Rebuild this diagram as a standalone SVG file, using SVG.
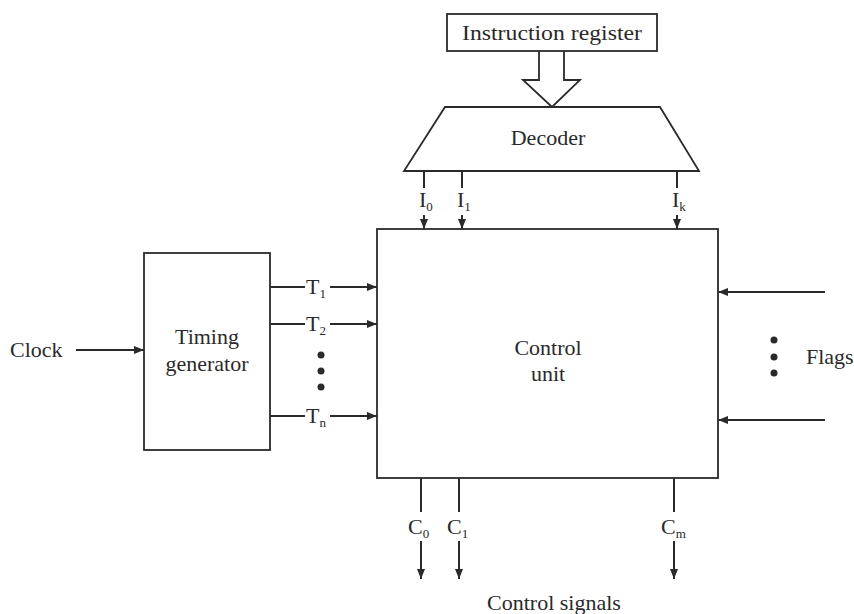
<svg xmlns="http://www.w3.org/2000/svg" width="854" height="614" viewBox="0 0 854 614">
<style>
.b{fill:none;stroke:#2a2a2a;stroke-width:1.8}
.l{fill:none;stroke:#2a2a2a;stroke-width:2}
text{font-family:"Liberation Serif",serif;font-size:22px;fill:#2a2a2a}
.s{font-size:13px}
.dot{fill:#2a2a2a}
</style>
<defs>
<marker id="ah" viewBox="0 0 10 10" refX="10" refY="5" markerWidth="10" markerHeight="10" markerUnits="userSpaceOnUse" orient="auto">
<path d="M0,1 L10,5 L0,9 Z" fill="#2a2a2a"/>
</marker>
</defs>
<rect width="854" height="614" fill="#ffffff"/>
<g id="ir">
<rect class="b" x="447" y="14" width="210" height="37"/>
<text x="552" y="40" text-anchor="middle" textLength="180" lengthAdjust="spacingAndGlyphs">Instruction register</text>
</g>
<g id="decoder">
<path class="b" d="M445,107 L660,107 L699,171 L404,171 Z"/>
<text x="548" y="145" text-anchor="middle">Decoder</text>
</g>
<g id="timing">
<rect class="b" x="144" y="253" width="126" height="197"/>
<text x="207" y="344" text-anchor="middle">Timing</text>
<text x="207" y="371" text-anchor="middle">generator</text>
</g>
<g id="control">
<rect class="b" x="377" y="229" width="341" height="249"/>
<text x="548" y="355" text-anchor="middle">Control</text>
<text x="548" y="381" text-anchor="middle">unit</text>
</g>
<g id="clock"><text x="10" y="357">Clock</text></g>
<g id="flags"><text x="806" y="364">Flags</text></g>
<g id="signals"><text x="554" y="610" text-anchor="middle">Control signals</text></g>
<g id="connectors">
<path class="b" d="M539,51 L539,80 L523,80 L552,107 L580,80 L564,80 L564,51" fill="#fff"/>
<line class="l" x1="424" y1="171" x2="424" y2="229" marker-end="url(#ah)"/>
<line class="l" x1="462" y1="171" x2="462" y2="229" marker-end="url(#ah)"/>
<line class="l" x1="677" y1="171" x2="677" y2="229" marker-end="url(#ah)"/>
<rect x="418" y="188" width="24" height="27" fill="#fff"/>
<rect x="456" y="188" width="22" height="27" fill="#fff"/>
<rect x="671" y="188" width="22" height="27" fill="#fff"/>
<text x="419" y="207">I<tspan class="s" dy="4">0</tspan></text>
<text x="457" y="207">I<tspan class="s" dy="4">1</tspan></text>
<text x="672" y="207">I<tspan class="s" dy="4">k</tspan></text>
<line class="l" x1="76" y1="350" x2="144" y2="350" marker-end="url(#ah)"/>
<line class="l" x1="270" y1="287" x2="305" y2="287"/>
<line class="l" x1="330" y1="287" x2="377" y2="287" marker-end="url(#ah)"/>
<line class="l" x1="270" y1="324" x2="305" y2="324"/>
<line class="l" x1="330" y1="324" x2="377" y2="324" marker-end="url(#ah)"/>
<line class="l" x1="270" y1="416" x2="305" y2="416"/>
<line class="l" x1="330" y1="416" x2="377" y2="416" marker-end="url(#ah)"/>
<text x="306" y="294">T<tspan class="s" dy="4">1</tspan></text>
<text x="306" y="331">T<tspan class="s" dy="4">2</tspan></text>
<text x="306" y="423">T<tspan class="s" dy="4">n</tspan></text>
<circle class="dot" cx="321" cy="355" r="3.5"/>
<circle class="dot" cx="321" cy="371" r="3.5"/>
<circle class="dot" cx="321" cy="387" r="3.5"/>
<line class="l" x1="825" y1="292" x2="718" y2="292" marker-end="url(#ah)"/>
<line class="l" x1="825" y1="420" x2="718" y2="420" marker-end="url(#ah)"/>
<circle class="dot" cx="774" cy="340" r="3.5"/>
<circle class="dot" cx="774" cy="357" r="3.5"/>
<circle class="dot" cx="774" cy="373" r="3.5"/>
<line class="l" x1="421" y1="478" x2="421" y2="512"/>
<line class="l" x1="421" y1="541" x2="421" y2="579" marker-end="url(#ah)"/>
<line class="l" x1="459" y1="478" x2="459" y2="512"/>
<line class="l" x1="459" y1="541" x2="459" y2="579" marker-end="url(#ah)"/>
<line class="l" x1="674" y1="478" x2="674" y2="512"/>
<line class="l" x1="674" y1="541" x2="674" y2="579" marker-end="url(#ah)"/>
<text x="408" y="534">C<tspan class="s" dy="4">0</tspan></text>
<text x="447" y="534">C<tspan class="s" dy="4">1</tspan></text>
<text x="661" y="534">C<tspan class="s" dy="4">m</tspan></text>
</g>
</svg>
